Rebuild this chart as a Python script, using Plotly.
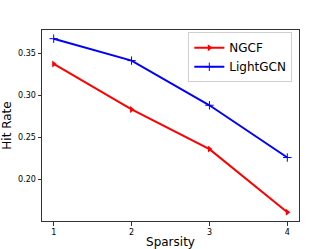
import plotly.graph_objects as go

sparsity = [1, 2, 3, 4]
ngcf = [0.337, 0.283, 0.236, 0.161]
lightgcn = [0.367, 0.341, 0.288, 0.226]
x_ticks = [1, 2, 3, 4]
y_ticks = [0.20, 0.25, 0.30, 0.35]

fig = go.Figure()
fig.add_trace(go.Scatter(
    x=sparsity, y=ngcf, name="NGCF", mode="lines+markers",
    line=dict(color="red", width=2),
    marker=dict(symbol="triangle-right", size=6, color="red"),
))
fig.add_trace(go.Scatter(
    x=sparsity, y=lightgcn, name="LightGCN", mode="lines+markers",
    line=dict(color="blue", width=2),
    marker=dict(symbol="cross-thin", size=6, color="blue",
                line=dict(color="blue", width=1)),
))

axis_common = dict(
    showline=True, linecolor="#333333", linewidth=1, mirror=True,
    ticks="outside", ticklen=3.5, tickwidth=1, tickcolor="#333333",
    showgrid=False, zeroline=False, automargin=False,
    tickfont=dict(family="DejaVu Sans", size=8, color="black"),
)

fig.update_layout(
    width=332, height=249,
    margin=dict(l=41.5, r=33.3, t=29.7, b=27.7),
    paper_bgcolor="white", plot_bgcolor="white",
    font=dict(family="DejaVu Sans", color="black"),
    xaxis=dict(range=[0.85, 4.15], tickvals=x_ticks, ticktext=[str(v) for v in x_ticks],
               title=dict(text="Sparsity", font=dict(size=12), standoff=3),
               **axis_common),
    yaxis=dict(range=[0.1507, 0.3773], tickvals=y_ticks,
               ticktext=[f"{v:.2f}" for v in y_ticks],
               title=dict(text="Hit Rate", font=dict(size=12), standoff=3),
               **axis_common),
    legend=dict(x=0.974, y=0.988, xanchor="right", yanchor="top",
                bordercolor="#d0d0d0", borderwidth=1, bgcolor="white",
                font=dict(size=12), tracegroupgap=0, itemwidth=30),
    showlegend=True,
)

fig.write_html("out.html",
               config={"displayModeBar": False},
               post_script="document.body.style.margin='0';document.body.style.padding='0';")
